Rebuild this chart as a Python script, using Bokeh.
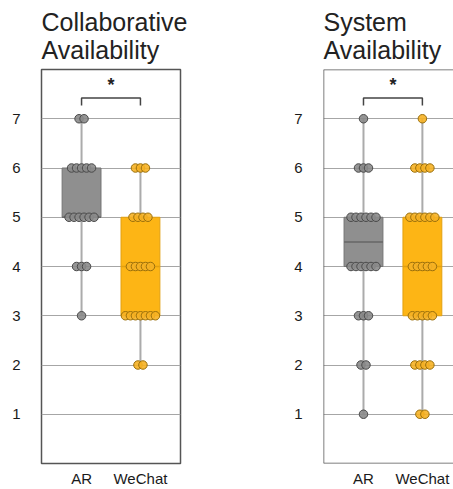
from bokeh.plotting import figure
from bokeh.layouts import row
from bokeh.models import FixedTicker, Span
from bokeh.embed import file_html
from bokeh.resources import INLINE
from bokeh.core.properties import value

# ---------------- data ----------------
categories = ["AR", "WeChat"]
panel_titles = ["Collaborative\nAvailability", "System\nAvailability"]
levels = [1, 2, 3, 4, 5, 6, 7]

# number of responses at each Likert level 1..7
collab_ar_counts = [0, 0, 1, 3, 6, 5, 2]
collab_wechat_counts = [0, 2, 7, 5, 4, 3, 0]
system_ar_counts = [1, 2, 3, 6, 6, 3, 1]
system_wechat_counts = [2, 4, 5, 5, 6, 4, 1]

# box statistics: min, q1, median, q3, max
collab_ar_box = [3, 5, 5, 6, 7]
collab_wechat_box = [2, 3, 4, 5, 6]
system_ar_box = [1, 4, 4.5, 5, 7]
system_wechat_box = [1, 3, 4, 5, 7]

y_ticks = [1, 2, 3, 4, 5, 6, 7]
sig_label = "*"
sig_bracket_top = 7.42
sig_bracket_leg = 7.27
sig_star_y = 7.68

# ---------------- styles ----------------
FONT = "Liberation Sans"
STYLES = [
    dict(box_fill="#8f8f8f", box_line="#747474", med="#666666",
         dot_fill="#8a8a8a", dot_line="#4a4a4a"),
    dict(box_fill="#FDB515", box_line="#E2A010", med="#E2A010",
         dot_fill="#F6B123", dot_line="#9A6F0C"),
]
PX_PER_UNIT = 139 / 2.36
DOT_STEP = 5.0 / PX_PER_UNIT


def make_panel(title, counts_pair, box_pair, width, border_left, x_start, x_end,
               border_right, keep_outline):
    p = figure(width=width, height=489, output_backend="svg", toolbar_location=None,
               x_range=(x_start, x_end), y_range=(0, 8),
               min_border_left=border_left, min_border_right=border_right,
               min_border_top=69, min_border_bottom=25)
    p.title.text = title
    p.title.text_font = FONT
    p.title.text_font_size = "25px"
    p.title.text_font_style = "normal"
    p.title.text_color = "#222222"
    p.title.align = "left"
    p.title.standoff = 11
    p.title.text_line_height = 1.0

    p.xgrid.grid_line_color = None
    p.ygrid.ticker = FixedTicker(ticks=y_ticks)
    p.ygrid.grid_line_color = "#a6a6a6"
    p.ygrid.grid_line_width = 1

    p.yaxis.ticker = FixedTicker(ticks=y_ticks)
    p.xaxis.ticker = FixedTicker(ticks=[1, 2])
    p.xaxis.major_label_overrides = {1: categories[0], 2: categories[1]}
    for ax in (p.xaxis, p.yaxis):
        ax.axis_line_color = None
        ax.major_tick_line_color = None
        ax.minor_tick_line_color = None
        ax.major_tick_out = 0
        ax.major_tick_in = 0
        ax.minor_tick_out = 0
        ax.major_label_text_font = FONT
        ax.major_label_text_color = "#1a1a1a"
    p.yaxis.major_label_text_font_size = "15px"
    p.yaxis.major_label_standoff = 21
    p.xaxis.major_label_text_font_size = "15px"
    p.xaxis.major_label_standoff = 6

    if keep_outline:
        p.outline_line_color = "#555555"
        p.outline_line_width = 1.5
    else:
        p.outline_line_color = None
        p.add_layout(Span(location=x_start, dimension="height", line_color="#555555", line_width=1.5))
        p.add_layout(Span(location=8, dimension="width", line_color="#555555", line_width=1.5))
        p.add_layout(Span(location=0, dimension="width", line_color="#555555", line_width=1.5))

    for i, (counts, box) in enumerate(zip(counts_pair, box_pair)):
        st = STYLES[i]
        xc = i + 1
        mn, q1, med, q3, mx = box
        # whisker
        p.segment(x0=[xc], y0=[mn], x1=[xc], y1=[mx], line_color="#ababab", line_width=2)
        # box
        p.vbar(x=[xc], width=0.66, bottom=[q1], top=[q3], fill_color=st["box_fill"],
               line_color=st["box_line"], line_width=1)
        # median
        p.segment(x0=[xc - 0.33], y0=[med], x1=[xc + 0.33], y1=[med],
                  line_color=st["med"], line_width=1.5)
        # dots
        xs, ys = [], []
        for lvl, n in zip(levels, counts):
            for k in range(n):
                xs.append(xc + (k - (n - 1) / 2) * DOT_STEP)
                ys.append(lvl)
        p.scatter(x=xs, y=ys, size=8.5, fill_color=st["dot_fill"], fill_alpha=0.9,
                  line_color=st["dot_line"], line_width=1)

    # significance bracket
    p.line(x=[1, 1, 2, 2], y=[sig_bracket_leg, sig_bracket_top, sig_bracket_top, sig_bracket_leg],
           line_color="#444444", line_width=1.5)
    p.text(x=[1.5], y=[sig_star_y], text=[sig_label], text_align="center",
           text_baseline="middle", text_font=value(FONT), text_font_size="18px",
           text_font_style="bold", text_color="#222222")
    return p


p1 = make_panel(panel_titles[0], [collab_ar_counts, collab_wechat_counts],
                [collab_ar_box, collab_wechat_box], width=260, border_left=41,
                x_start=0.32, x_end=2.68, border_right=80, keep_outline=True)
p2 = make_panel(panel_titles[1], [system_ar_counts, system_wechat_counts],
                [system_ar_box, system_wechat_box], width=193, border_left=63,
                x_start=0.321, x_end=0.321 + 130 / PX_PER_UNIT, border_right=0,
                keep_outline=False)

layout = row(p1, p2)
open("out.html", "w").write(file_html(layout, INLINE))
